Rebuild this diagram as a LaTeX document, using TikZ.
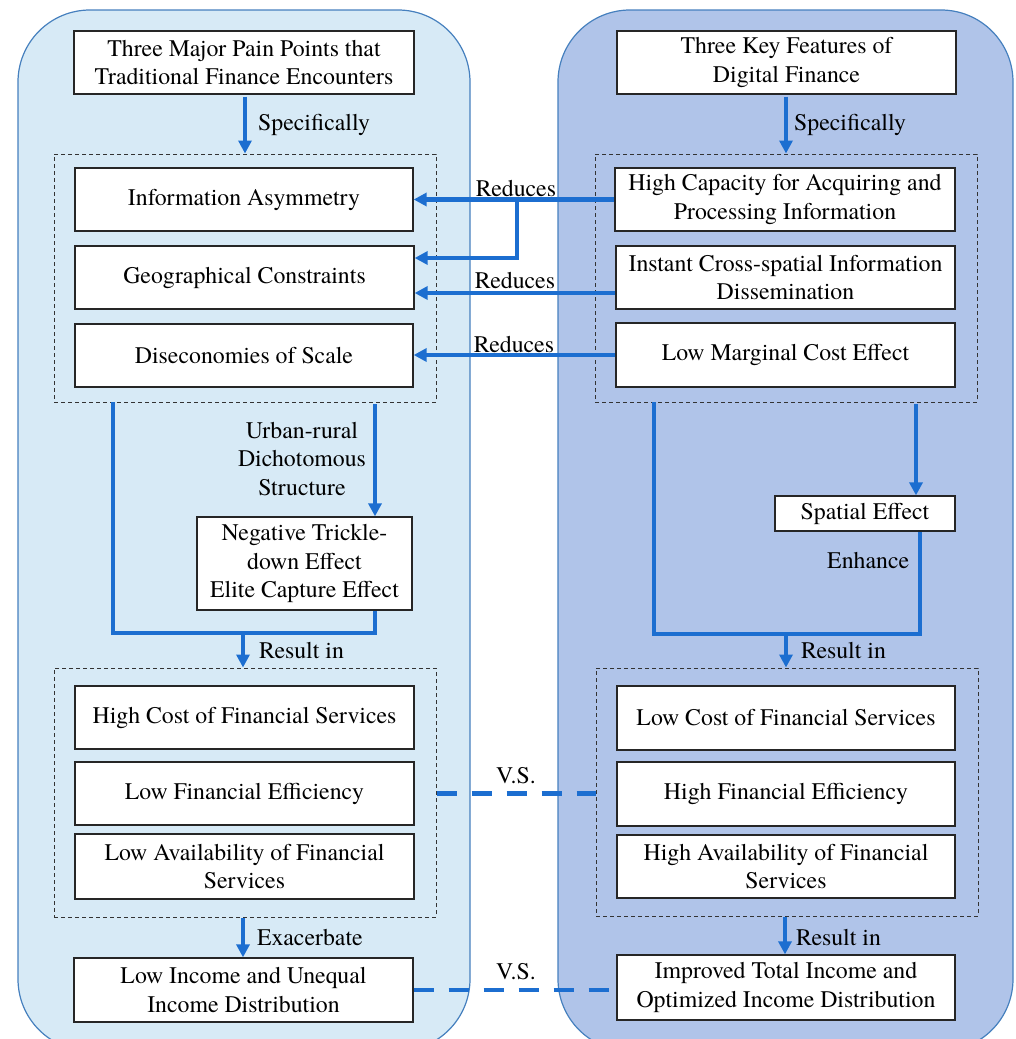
\documentclass[tikz,border=0pt]{standalone}
\usepackage{fontspec}
\setmainfont{texgyretermes}[Extension=.otf, UprightFont=*-regular, BoldFont=*-bold, ItalicFont=*-italic, BoldItalicFont=*-bolditalic]
\usetikzlibrary{arrows.meta}
\definecolor{panelL}{RGB}{215,234,246}
\definecolor{panelR}{RGB}{176,196,233}
\definecolor{panelEdge}{RGB}{70,128,190}
\definecolor{flow}{RGB}{28,110,208}
\begin{document}
\begin{tikzpicture}[x=1pt,y=-1pt,
  every node/.style={font=\fontsize{23.8}{28.6}\selectfont},
  box/.style={draw=black!85, fill=white, line width=1.3pt, align=center, inner sep=0pt},
  grp/.style={draw=black!80, line width=1pt, dash pattern=on 4pt off 3pt, inner sep=0pt},
  lbl/.style={inner sep=0pt, align=center},
  flowline/.style={draw=flow, line width=4.2pt},
  arr/.style={flowline, -{Triangle[length=13pt,width=13pt]}},
  vsline/.style={draw=flow, line width=4.5pt, dash pattern=on 20pt off 15pt}
]
\useasboundingbox (0,0) rectangle (1016,1039);
% panels
\begin{scope}
\clip (0,0) rectangle (1016,1039);
\draw[panelEdge, fill=panelL, line width=1.2pt, rounded corners=72pt] (18,10) rectangle (470,1051);
\draw[panelEdge, fill=panelR, line width=1.2pt, rounded corners=72pt] (558,10) rectangle (1013,1051);
\end{scope}
% dashed groups
\node[grp, minimum width=382pt, minimum height=248pt] (gL1) at (245,278) {};
\node[grp, minimum width=382pt, minimum height=248pt] (gR1) at (786,278) {};
\node[grp, minimum width=382pt, minimum height=249pt] (gL2) at (245,792.5) {};
\node[grp, minimum width=382pt, minimum height=248pt] (gR2) at (787,792) {};
% boxes left
\node[box, minimum width=340pt, minimum height=63pt] (topL) at (244,62.5) {Three Major Pain Points that\\Traditional Finance Encounters};
\node[box, minimum width=338pt, minimum height=63pt] (infoA) at (244,199.5) {Information Asymmetry};
\node[box, minimum width=339pt, minimum height=63pt] (geo) at (244.5,277.5) {Geographical Constraints};
\node[box, minimum width=338pt, minimum height=63pt] (dis) at (244,355.5) {Diseconomies of Scale};
\node[box, minimum width=215pt, minimum height=93pt] (neg) at (304.5,563.5) {Negative Trickle-\\down Effect\\Elite Capture Effect};
\node[box, minimum width=339pt, minimum height=63pt] (hcost) at (244.5,717.5) {High Cost of Financial Services};
\node[box, minimum width=339pt, minimum height=63pt] (leff) at (244.5,793.5) {Low Financial Efficiency};
\node[box, minimum width=339pt, minimum height=65pt] (lav) at (244.5,866.5) {Low Availability of Financial\\Services};
\node[box, minimum width=339pt, minimum height=64pt] (lowinc) at (243.5,990) {Low Income and Unequal\\Income Distribution};
% boxes right
\node[box, minimum width=339pt, minimum height=63pt] (topR) at (786.5,62.5) {Three Key Features of\\Digital Finance};
\node[box, minimum width=340pt, minimum height=63pt] (hcap) at (785,199.5) {High Capacity for Acquiring and\\Processing Information};
\node[box, minimum width=339pt, minimum height=63pt] (inst) at (785.5,277.5) {Instant Cross-spatial Information\\Dissemination};
\node[box, minimum width=339pt, minimum height=64pt] (lmc) at (785.5,355) {Low Marginal Cost Effect};
\node[box, minimum width=180pt, minimum height=35pt] (spat) at (865,513.5) {Spatial Effect};
\node[box, minimum width=338pt, minimum height=64pt] (lcost) at (786,718) {Low Cost of Financial Services};
\node[box, minimum width=338pt, minimum height=64pt] (heff) at (786,794) {High Financial Efficiency};
\node[box, minimum width=338pt, minimum height=63pt] (hav) at (786,866.5) {High Availability of Financial\\Services};
\node[box, minimum width=338pt, minimum height=65pt] (impr) at (786,987.5) {Improved Total Income and\\Optimized Income Distribution};
% labels
\node[lbl, anchor=west] (sp1) at (258,125) {Specifically};
\node[lbl, anchor=west] (sp2) at (794,125) {Specifically};
\node[lbl] (red1) at (516,188) {Reduces};
\node[lbl] (red2) at (515,280) {Reduces};
\node[lbl] (red3) at (514,344) {Reduces};
\node[lbl] (urb) at (302,459) {Urban-rural\\Dichotomous\\Structure};
\node[lbl, anchor=west] (res1) at (259,650) {Result in};
\node[lbl, anchor=west] (enh) at (827,560) {Enhance};
\node[lbl, anchor=west] (res2) at (801,650) {Result in};
\node[lbl, anchor=west] (exa) at (257,937) {Exacerbate};
\node[lbl, anchor=west] (res3) at (796,937) {Result in};
\node[lbl] (vs1) at (516,776) {V.S.};
\node[lbl] (vs2) at (516,972) {V.S.};
% connector corner coordinates
\coordinate (br1) at (517,200);
\coordinate (lL) at (113,402);
\coordinate (lLb) at (113,633);
\coordinate (rL) at (375,404);
\coordinate (rLb) at (375,633);
\coordinate (jL) at (243,633);
\coordinate (lR) at (654,402);
\coordinate (lRb) at (654,634);
\coordinate (rR) at (916,404);
\coordinate (eR) at (920,634);
\coordinate (jR) at (786,634);
% top arrows
\draw[arr] ([yshift=-2pt]topL.south -| gL1.north) -- (gL1.north);
\draw[arr] ([yshift=-2pt]topR.south -| gR1.north) -- (gR1.north);
% reduces arrows
\draw[arr] (hcap.west) -- (infoA.east);
\draw[arr] (br1) |- ([yshift=19.5pt]geo.east);
\draw[arr] ([yshift=-15.5pt]inst.west) -- ([yshift=-15.5pt]geo.east);
\draw[arr] (lmc.west) -- (lmc.west -| dis.east);
% left middle
\draw[arr] (rL) -- (rL |- neg.north);
\draw[flowline] (lL) -- (lLb) -- (rLb) -- (rLb |- neg.south);
\draw[arr] (jL) -- (jL |- gL2.north);
% right middle
\draw[arr] (rR) -- (rR |- spat.north);
\draw[flowline] (lR) -- (lRb) -- (eR) -- (eR |- spat.south);
\draw[arr] (jR) -- (jR |- gR2.north);
% bottom arrows
\draw[arr] (gL2.south -| jL) -- (jL |- lowinc.north);
\draw[arr] (gR2.south -| 785,0) -- (impr.north -| 785,0);
% V.S. lines
\draw[vsline] (gL2.east |- leff.east) -- (gR2.west |- leff.east);
\draw[vsline] (lowinc.east) -- (impr.west |- lowinc.east);
\end{tikzpicture}
\end{document}
